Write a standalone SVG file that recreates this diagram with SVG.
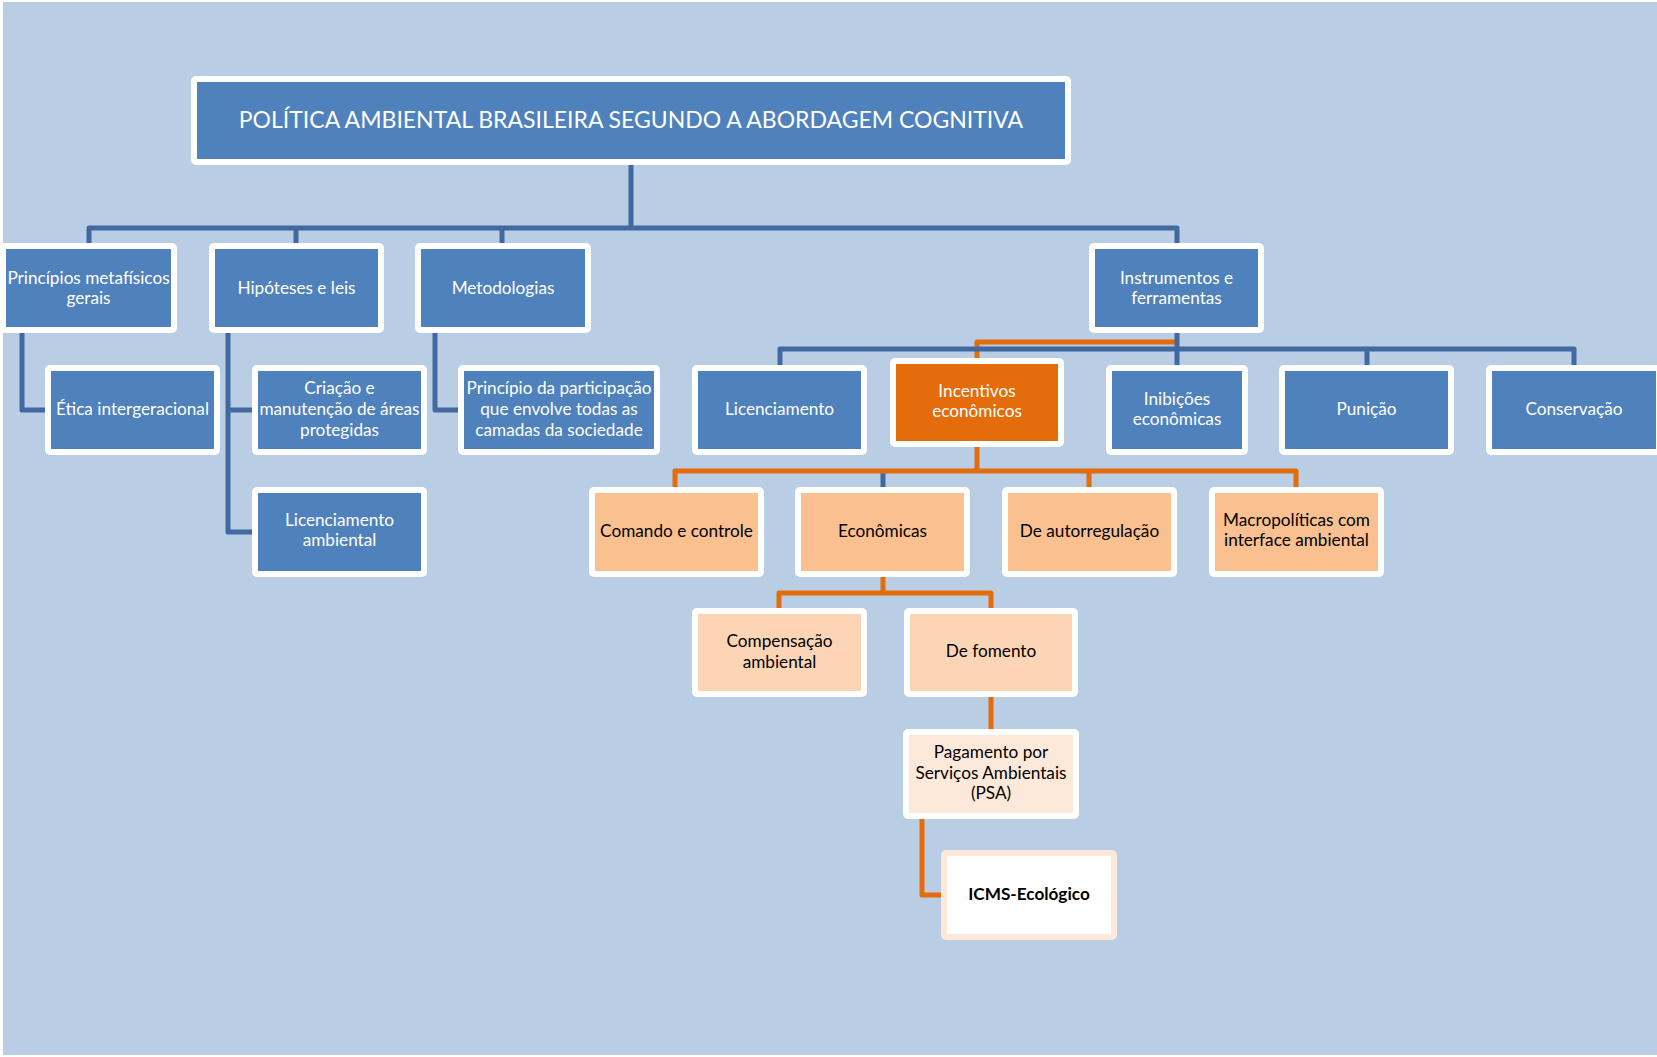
<svg xmlns="http://www.w3.org/2000/svg" width="1657" height="1057" viewBox="0 0 1657 1057">
<style>
  .bl{fill:#4F81BD;stroke:#FFFFFF;stroke-width:6}
  .or{fill:#E46C0A;stroke:#FFFFFF;stroke-width:6}
  .l1{fill:#FAC090;stroke:#FFFFFF;stroke-width:6}
  .l2{fill:#FCD5B5;stroke:#FFFFFF;stroke-width:6}
  .l3{fill:#FDE9D9;stroke:#FFFFFF;stroke-width:6}
  .l4{fill:#FFFFFF;stroke:#FDE9D9;stroke-width:6}
  text{font-family:Lato,"Liberation Sans",sans-serif;font-size:17.2px;text-anchor:middle}
  .w{fill:#FFFFFF}
  .k{fill:#000000}
  .t{font-size:23px}
  .b{font-weight:bold}
  .cb{fill:none;stroke:#41699F;stroke-width:5;stroke-linejoin:round}
  .co{fill:none;stroke:#E46C0A;stroke-width:5;stroke-linejoin:round}
</style>
<rect x="0" y="0" width="1657" height="1057" fill="#FFFFFF"/>
<rect x="3" y="2" width="1654" height="1053" fill="#B9CDE5"/>

<g id="connectors">
  <path class="cb" d="M631,165 V228 M89,243 V228 H1177 V243 M296,228 V243 M502,228 V243"/>
  <path class="cb" d="M22,333 V410 H45 M228,333 V532 H252 M228,410 H252 M435,333 V410 H458"/>
  <path class="co" d="M1177,342 H977 V358"/>
  <path class="cb" d="M1177,333 V365 M780,365 V349 H1574 V365 M1367,349 V365"/>
  <path class="cb" d="M883,471 V487"/>
  <path class="co" d="M977,447 V471 M675,487 V471 H1296 V487 M1089,471 V487"/>
  <path class="co" d="M883,577 V593 M779,608 V593 H991 V608 M991,697 V729 M922,819 V895 H941"/>
</g>

<g id="title">
  <rect class="bl" x="194" y="79" width="874" height="83" rx="2"/>
  <text class="w t" x="631" y="127.5">POLÍTICA AMBIENTAL BRASILEIRA SEGUNDO A ABORDAGEM COGNITIVA</text>
</g>
<g id="principios">
  <rect class="bl" x="3" y="246" width="171" height="84" rx="2"/>
  <text class="w" x="88.5" y="283.5">Princípios metafísicos</text>
  <text class="w" x="88.5" y="303.5">gerais</text>
</g>
<g id="hipoteses">
  <rect class="bl" x="212" y="246" width="169" height="84" rx="2"/>
  <text class="w" x="296.5" y="293.5">Hipóteses e leis</text>
</g>
<g id="metodologias">
  <rect class="bl" x="418" y="246" width="170" height="84" rx="2"/>
  <text class="w" x="503" y="293.5">Metodologias</text>
</g>
<g id="instrumentos">
  <rect class="bl" x="1092" y="246" width="169" height="84" rx="2"/>
  <text class="w" x="1176.5" y="283.5">Instrumentos e</text>
  <text class="w" x="1176.5" y="303.5">ferramentas</text>
</g>
<g id="etica">
  <rect class="bl" x="48" y="368" width="169" height="84" rx="2"/>
  <text class="w" x="132.5" y="414.5">Ética intergeracional</text>
</g>
<g id="criacao">
  <rect class="bl" x="255" y="368" width="169" height="84" rx="2"/>
  <text class="w" x="339.5" y="393.5">Criação e</text>
  <text class="w" x="339.5" y="414.5">manutenção de áreas</text>
  <text class="w" x="339.5" y="435.5">protegidas</text>
</g>
<g id="participacao">
  <rect class="bl" x="461" y="368" width="196" height="84" rx="2"/>
  <text class="w" x="559" y="393.5">Princípio da participação</text>
  <text class="w" x="559" y="414.5">que envolve todas as</text>
  <text class="w" x="559" y="435.5">camadas da sociedade</text>
</g>
<g id="licenciamento-ambiental">
  <rect class="bl" x="255" y="490" width="169" height="84" rx="2"/>
  <text class="w" x="339.5" y="526">Licenciamento</text>
  <text class="w" x="339.5" y="546">ambiental</text>
</g>
<g id="licenciamento">
  <rect class="bl" x="695" y="368" width="169" height="84" rx="2"/>
  <text class="w" x="779.5" y="414.5">Licenciamento</text>
</g>
<g id="incentivos">
  <rect class="or" x="893" y="361" width="168" height="83" rx="2"/>
  <text class="w" x="977" y="397">Incentivos</text>
  <text class="w" x="977" y="417">econômicos</text>
</g>
<g id="inibicoes">
  <rect class="bl" x="1109" y="368" width="136" height="84" rx="2"/>
  <text class="w" x="1177" y="404.5">Inibições</text>
  <text class="w" x="1177" y="425">econômicas</text>
</g>
<g id="punicao">
  <rect class="bl" x="1282" y="368" width="169" height="84" rx="2"/>
  <text class="w" x="1366.5" y="414.5">Punição</text>
</g>
<g id="conservacao">
  <rect class="bl" x="1489" y="368" width="170" height="84" rx="2"/>
  <text class="w" x="1574" y="414.5">Conservação</text>
</g>
<g id="comando">
  <rect class="l1" x="592" y="490" width="169" height="84" rx="2"/>
  <text class="k" x="676.5" y="537">Comando e controle</text>
</g>
<g id="economicas">
  <rect class="l1" x="798" y="490" width="169" height="84" rx="2"/>
  <text class="k" x="882.5" y="537">Econômicas</text>
</g>
<g id="autorregulacao">
  <rect class="l1" x="1005" y="490" width="169" height="84" rx="2"/>
  <text class="k" x="1089.5" y="537">De autorregulação</text>
</g>
<g id="macropoliticas">
  <rect class="l1" x="1212" y="490" width="169" height="84" rx="2"/>
  <text class="k" x="1296.5" y="526">Macropolíticas com</text>
  <text class="k" x="1296.5" y="546">interface ambiental</text>
</g>
<g id="compensacao">
  <rect class="l2" x="695" y="611" width="169" height="83" rx="2"/>
  <text class="k" x="779.5" y="647">Compensação</text>
  <text class="k" x="779.5" y="668">ambiental</text>
</g>
<g id="fomento">
  <rect class="l2" x="907" y="611" width="168" height="83" rx="2"/>
  <text class="k" x="991" y="656.5">De fomento</text>
</g>
<g id="psa">
  <rect class="l3" x="906" y="732" width="170" height="84" rx="2"/>
  <text class="k" x="991" y="758">Pagamento por</text>
  <text class="k" x="991" y="779">Serviços Ambientais</text>
  <text class="k" x="991" y="799">(PSA)</text>
</g>
<g id="icms">
  <rect class="l4" x="944" y="853" width="170" height="84" rx="2"/>
  <text class="k b" x="1029" y="900">ICMS-Ecológico</text>
</g>
</svg>
